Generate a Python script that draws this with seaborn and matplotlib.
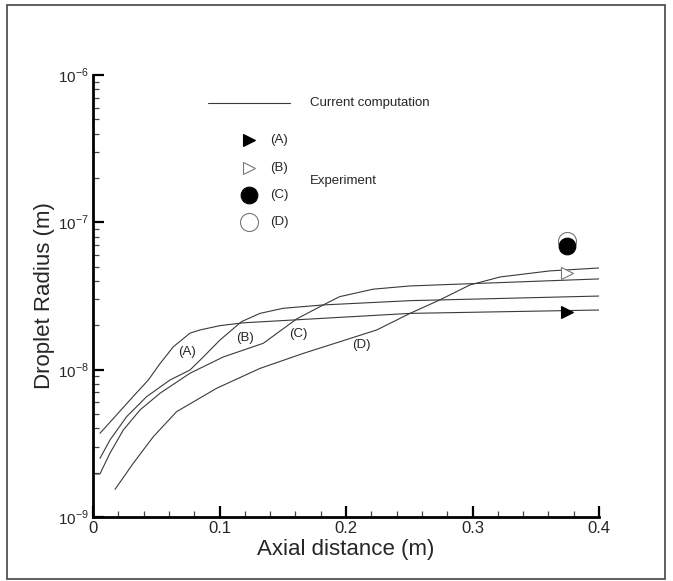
import matplotlib
matplotlib.use("Agg")
import matplotlib.pyplot as plt
import matplotlib.ticker as mticker
from matplotlib.patches import Rectangle
import numpy as np
import pandas as pd
import seaborn as sns

sns.set_style("white")
plt.rcParams['font.family'] = ['Liberation Sans', 'DejaVu Sans']
plt.rcParams['mathtext.fontset'] = 'custom'
plt.rcParams['mathtext.rm'] = 'Liberation Sans'

# ---- data ----
a_x = [0.0055, 0.0174, 0.0319, 0.0437, 0.053, 0.0635, 0.0767, 0.0846, 0.1004, 0.119, 0.2506, 0.4]
a_y = [3.70e-9, 4.8e-9, 6.6e-9, 8.5e-9, 1.10e-8, 1.43e-8, 1.77e-8, 1.86e-8, 1.99e-8, 2.08e-8, 2.41e-8, 2.54e-8]

b_x = [0.0055, 0.0134, 0.0266, 0.0424, 0.0609, 0.0767, 0.0872, 0.1004, 0.1175, 0.132, 0.1504, 0.182, 0.2506, 0.4]
b_y = [2.50e-9, 3.33e-9, 4.80e-9, 6.56e-9, 8.51e-9, 9.95e-9, 1.22e-8, 1.59e-8, 2.12e-8, 2.41e-8, 2.61e-8, 2.75e-8, 2.94e-8, 3.16e-8]

c_x = [0.002, 0.0055, 0.0134, 0.024, 0.0372, 0.053, 0.0767, 0.103, 0.1346, 0.161, 0.182, 0.195, 0.2216, 0.2506, 0.4]
c_y = [1.96e-9, 1.96e-9, 2.71e-9, 3.90e-9, 5.33e-9, 6.92e-9, 9.46e-9, 1.22e-8, 1.51e-8, 2.21e-8, 2.75e-8, 3.13e-8, 3.52e-8, 3.70e-8, 4.13e-8]

d_x = [0.0174, 0.0319, 0.0477, 0.0661, 0.0978, 0.132, 0.1663, 0.2243, 0.2506, 0.274, 0.298, 0.322, 0.361, 0.4]
d_y = [1.54e-9, 2.32e-9, 3.51e-9, 5.19e-9, 7.48e-9, 1.02e-8, 1.29e-8, 1.86e-8, 2.41e-8, 2.97e-8, 3.76e-8, 4.26e-8, 4.68e-8, 4.90e-8]

exp_cases = ["(A)", "(B)", "(C)", "(D)"]
exp_x = [0.375, 0.375, 0.375, 0.375]
exp_y = [2.47e-8, 4.54e-8, 6.9e-8, 7.5e-8]

curve_labels = ["(A)", "(B)", "(C)", "(D)"]
curve_label_x = [0.074, 0.120, 0.1623, 0.2124]
curve_label_y = [1.32e-8, 1.63e-8, 1.74e-8, 1.47e-8]

x_ticks = [0, 0.1, 0.2, 0.3, 0.4]
x_tick_labels = ["0", "0.1", "0.2", "0.3", "0.4"]
y_ticks = [1e-9, 1e-8, 1e-7, 1e-6]
y_tick_labels = [r"$10^{-9}$", r"$10^{-8}$", r"$10^{-7}$", r"$10^{-6}$"]

# ---- figure ----
fig = plt.figure(figsize=(6.73, 5.81), dpi=100)
ax = fig.add_axes([93/673, 64/581, 506/673, 442/581])

line_color = "#3a3a3a"
for xs, ys in [(a_x, a_y), (b_x, b_y), (c_x, c_y), (d_x, d_y)]:
    df = pd.DataFrame({"x": xs, "y": ys})
    sns.lineplot(data=df, x="x", y="y", ax=ax, color=line_color, lw=0.8,
                 estimator=None, sort=False)

# experimental points
marker_styles = {
    "(A)": dict(marker=">", ms=9, mfc="black", mec="black", mew=0.8),
    "(B)": dict(marker=">", ms=9, mfc="white", mec="#777777", mew=0.8),
    "(C)": dict(marker="o", ms=12, mfc="black", mec="black", mew=0.8),
    "(D)": dict(marker="o", ms=13, mfc="white", mec="#777777", mew=0.8),
}
order = ["(A)", "(B)", "(D)", "(C)"]
for case in order:
    i = exp_cases.index(case)
    ax.plot([exp_x[i]], [exp_y[i]], ls="none", zorder=5, **marker_styles[case])

for lab, lx, ly in zip(curve_labels, curve_label_x, curve_label_y):
    ax.text(lx, ly, lab, fontsize=9.5, ha="center", va="center")

ax.set_yscale("log")
ax.set_xlim(0, 0.4)
ax.set_ylim(1e-9, 1e-6)
ax.set_xticks(x_ticks)
ax.set_xticklabels(x_tick_labels, fontsize=12)
ax.set_yticks(y_ticks)
ax.set_yticklabels(y_tick_labels, fontsize=11)
ax.xaxis.set_minor_locator(mticker.MultipleLocator(0.02))
ax.yaxis.set_minor_locator(mticker.LogLocator(base=10, subs=np.arange(2, 10)))
ax.yaxis.set_minor_formatter(mticker.NullFormatter())
ax.tick_params(which="major", direction="in", length=8, width=1.6, color="black", pad=3, bottom=True, left=True)
ax.tick_params(which="minor", direction="in", length=4, width=0.9, color="#444444", bottom=True, left=True)

for s in ["top", "right"]:
    ax.spines[s].set_visible(False)
for s in ["left", "bottom"]:
    ax.spines[s].set_color("black")
    ax.spines[s].set_linewidth(2)

ax.set_xlabel("Axial distance (m)", fontsize=16, labelpad=2)
ax.set_ylabel("Droplet Radius (m)", fontsize=16, labelpad=2)

# custom legend (axes fraction)
ax.plot([0.227, 0.389], [0.937, 0.937], transform=ax.transAxes, color=line_color, lw=0.8, clip_on=False)
ax.text(0.429, 0.937, "Current computation", transform=ax.transAxes, fontsize=9.5, va="center")
leg_y = [0.853, 0.790, 0.729, 0.667]
for case, fy in zip(exp_cases, leg_y):
    st = dict(marker_styles[case])
    ax.plot([0.308], [fy], transform=ax.transAxes, ls="none", clip_on=False, **st)
    ax.text(0.35, fy, case, transform=ax.transAxes, fontsize=9.5, va="center")
ax.text(0.429, 0.760, "Experiment", transform=ax.transAxes, fontsize=9.5, va="center")

# outer frame
fig.patches.append(Rectangle((7/673, 2/581), 658/673, 574/581, transform=fig.transFigure,
                             fill=False, edgecolor="#444444", lw=1.2))

fig.savefig("out.png", dpi=100)
